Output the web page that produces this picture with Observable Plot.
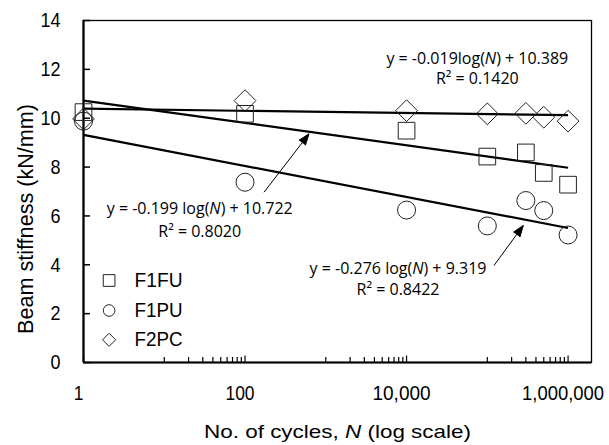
<!DOCTYPE html>
<html><head><meta charset="utf-8">
<script src="https://cdn.jsdelivr.net/npm/d3@7"></script>
<script src="https://cdn.jsdelivr.net/npm/@observablehq/plot@0.6"></script>
<style>
body{margin:0;background:#fff;}
#chart svg{display:block;}
</style></head><body><div id="chart"></div>
<script>
// ---- data ----
const cycles = [1, 100, 10000, 100000, 300000, 500000, 1000000];
const f1fu = [10.25, 10.18, 9.49, 8.43, 8.60, 7.76, 7.28];
const f1pu = [9.88, 7.38, 6.24, 5.59, 6.63, 6.22, 5.22];
const f2pc = [9.97, 10.72, 10.31, 10.18, 10.20, 10.04, 9.88];
const seriesNames = ["F1FU", "F1PU", "F2PC"];
const seriesSymbols = ["square", "circle", "diamond2"];
// logarithmic trend lines y = a ln(N) + b, as printed on the chart
const slopes = [-0.199, -0.276, -0.019];
const intercepts = [10.722, 9.319, 10.389];
const fitStart = 1, fitEnd = 1000000;
const eqLabels = ["y = -0.199 log(N) + 10.722", "y = -0.276 log(N) + 9.319", "y = -0.019log(N) + 10.389"];
const r2Labels = ["R\u00b2 = 0.8020", "R\u00b2 = 0.8422", "R\u00b2 = 0.1420"];
const eqX = [27.5, 7840, 75200];
const eqY = [6.29, 3.84, 12.43];
const r2Y = [5.36, 2.98, 11.61];
const arrowX1 = [172, 121000], arrowY1 = [6.97, 3.97];
const arrowX2 = [620, 279000], arrowY2 = [9.36, 5.61];
const yTicks = [0, 2, 4, 6, 8, 10, 12, 14];
const xMajorTicks = [1, 100, 10000, 1000000];
const xMinorTicks = [10, 1000, 100000].flatMap(d => [1,2,3,4,5,6,7,8,9].map(k => k * d));
const xTitle = "No. of cycles, N (log scale)";
const yTitle = "Beam stiffness (kN/mm)";

const seriesValues = [f1fu, f1pu, f2pc];
const markerR = [9.4, 9, 9.8];
const legendR = [6.6, 5.8, 5.9];
const legendDy = [-82, -52, -22.7];

const tickFont = '"Liberation Sans", Arimo, sans-serif';
const eqFont = '"Open Sans", "Noto Sans", sans-serif';

const idx = d3.range(seriesNames.length);
const marks = [
  Plot.axisY(yTicks, {tickSize: 0, tickPadding: 23, fontSize: 21, fontFamily: tickFont, label: null}),
  Plot.axisX(xMajorTicks, {tickSize: 0, tickPadding: 24, dx: -5, fontSize: 19.5, fontFamily: tickFont, tickFormat: d3.format(","), label: null}),
  // inward tick marks
  Plot.ruleY(yTicks, {x1: 1, x2: 1, insetRight: -7, stroke: "black", strokeWidth: 1.5}),
  Plot.ruleX(xMinorTicks, {y1: 0, y2: 0, insetTop: -5, stroke: "black", strokeWidth: 1.2}),
  Plot.ruleX(xMajorTicks, {y1: 0, y2: 0, insetTop: -6.5, stroke: "black", strokeWidth: 1.2}),
  Plot.frame({stroke: "black", strokeWidth: 1.3}),
  Plot.ruleX([1], {stroke: "black", strokeWidth: 2.2}),
  Plot.ruleY([0], {stroke: "black", strokeWidth: 2.2}),
  Plot.link(idx, {
    x1: () => fitStart, x2: () => fitEnd,
    y1: i => intercepts[i] + slopes[i] * Math.log(fitStart),
    y2: i => intercepts[i] + slopes[i] * Math.log(fitEnd),
    stroke: "black", strokeWidth: 2.2
  }),
  ...idx.map(s => Plot.dot(cycles, {x: d => d, y: seriesValues[s], symbol: seriesSymbols[s], r: markerR[s], stroke: "#222", strokeWidth: 1, fill: "none"})),
  Plot.arrow([0, 1], {x1: i => arrowX1[i], y1: i => arrowY1[i], x2: i => arrowX2[i], y2: i => arrowY2[i],
    stroke: "black", fill: "black", strokeWidth: 1, headLength: 18, headAngle: 40, strokeLinecap: "butt"}),
  Plot.text(idx, {x: i => eqX[i], y: i => eqY[i], text: i => eqLabels[i], fontFamily: eqFont, fontSize: 16, fill: "black"}),
  Plot.text(idx, {x: i => eqX[i], y: i => r2Y[i], text: i => r2Labels[i], fontFamily: eqFont, fontSize: 16, fill: "black"}),
  ...idx.map(s => Plot.dot([seriesNames[s]], {frameAnchor: "bottom-left", dx: 25.6, dy: legendDy[s], symbol: seriesSymbols[s], r: legendR[s], stroke: "#222", strokeWidth: 1, fill: "none"})),
  ...idx.map(s => Plot.text([seriesNames[s]], {frameAnchor: "bottom-left", dx: 51, dy: legendDy[s], text: d => d, textAnchor: "start", lineAnchor: "middle", fontFamily: tickFont, fontSize: 20, fill: "black", className: "leg"})),
  Plot.text([xTitle], {frameAnchor: "bottom", dy: 69.7, text: d => d, textAnchor: "middle", lineAnchor: "middle", fontFamily: tickFont, fontSize: 19, fill: "black", className: "xtitle"}),
  Plot.text([yTitle], {frameAnchor: "left", dx: -57.7, dy: 27.5, rotate: -90, text: d => d, textAnchor: "middle", lineAnchor: "middle", fontFamily: tickFont, fontSize: 22, fill: "black", className: "ytitle"})
];

const chart = Plot.plot({
  width: 609, height: 445,
  marginLeft: 83, marginRight: 18, marginTop: 20, marginBottom: 83,
  x: {type: "log", domain: [1, 1950000]},
  y: {domain: [0, 14]},
  style: {background: "white", color: "black", fontFamily: tickFont},
  marks
});

const svg = d3.select(chart);
// italic N in equations and x title
svg.selectAll("text").each(function() {
  const t = this.textContent;
  const m = t.match(/^(.*?[(, ])N([) ].*)$/);
  if (!m || this.children.length) return;
  const el = d3.select(this);
  el.text(null);
  el.append("tspan").text(m[1]);
  el.append("tspan").attr("font-style", "italic").text("N");
  el.append("tspan").text(m[2]);
});
// narrow half-width look of the original axis font
function squeeze(sel, len) {
  sel.each(function() {
    const n = this.textContent.length;
    d3.select(this).attr("textLength", typeof len === "function" ? len(n) : len).attr("lengthAdjust", "spacingAndGlyphs");
  });
}
squeeze(svg.selectAll('g[aria-label="y-axis tick label"] text'), n => n * 10);
squeeze(svg.selectAll('g[aria-label="x-axis tick label"] text'), n => Math.min(n * 9.7, 82));
squeeze(svg.selectAll('.leg text'), 48);
squeeze(svg.selectAll('.xtitle text'), 267);
squeeze(svg.selectAll('.ytitle text'), 230);

document.getElementById("chart").append(chart);
</script></body></html>
